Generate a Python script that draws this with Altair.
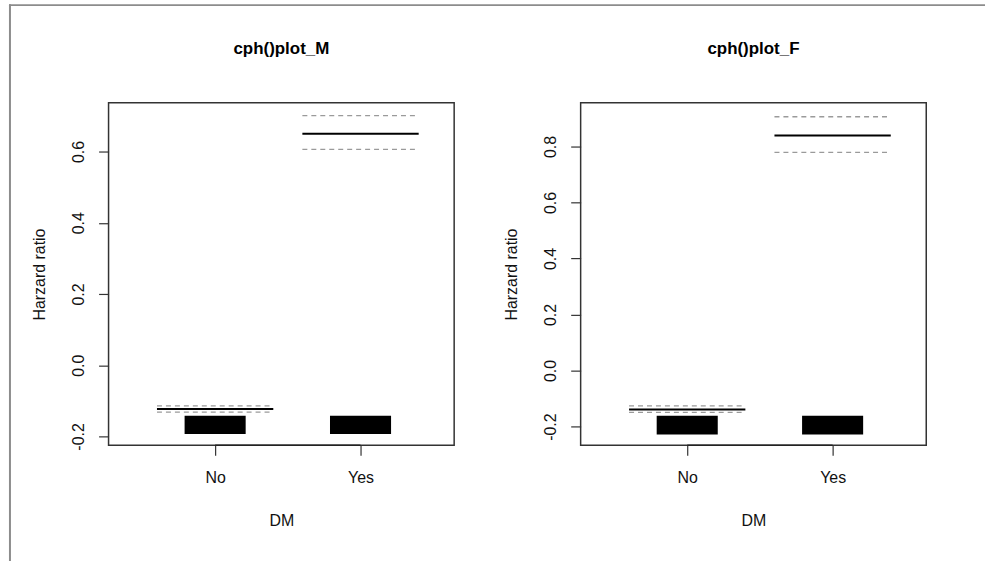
import altair as alt
import pandas as pd

# ---- data ----
categories = ["No", "Yes"]
panel_titles = ["cph()plot_M", "cph()plot_F"]

m_est = [-0.123, 0.650]
m_lower = [-0.132, 0.606]
m_upper = [-0.114, 0.701]
m_bar_low = [-0.193, -0.193]
m_bar_high = [-0.142, -0.142]

f_est = [-0.139, 0.839]
f_lower = [-0.149, 0.779]
f_upper = [-0.126, 0.906]
f_bar_low = [-0.228, -0.228]
f_bar_high = [-0.161, -0.161]

m_ticks = [-0.2, 0.0, 0.2, 0.4, 0.6]
f_ticks = [-0.2, 0.0, 0.2, 0.4, 0.6, 0.8]
m_domain = [-0.225, 0.737]
f_domain = [-0.267, 0.956]
x_domain = [0.267, 2.644]

# ---- styling / layout ----
LINE_HALF = 0.4
BAR_HALF = 0.21
W, H = 347, 344
FONT = "Liberation Sans"
MINUS = "\u2212"


def panel(title, est, lower, upper, blo, bhi, ticks, ydom, frame=False):
    pos = [i + 1 for i in range(len(categories))]
    df = pd.DataFrame({
        "cat": categories, "pos": pos, "est": est, "lower": lower,
        "upper": upper, "blo": blo, "bhi": bhi,
    })
    df["x0"] = df["pos"] - LINE_HALF
    df["x1"] = df["pos"] + LINE_HALF
    df["b0"] = df["pos"] - BAR_HALF
    df["b1"] = df["pos"] + BAR_HALF

    xs = alt.Scale(domain=x_domain, nice=False, zero=False)
    ys = alt.Scale(domain=ydom, nice=False, zero=False)
    cat_js = "[" + ",".join("'%s'" % c for c in categories) + "]"
    xaxis = alt.Axis(
        values=pos, labelExpr=cat_js + "[datum.value - 1]", title="DM",
        domain=False, grid=False, tickSize=10, tickColor="#333", tickWidth=1.2,
        labelPadding=14, labelFont=FONT, labelFontSize=16, labelColor="#111",
        titleFont=FONT, titleFontSize=16, titleFontWeight="normal", titleColor="#111",
        titleX=W / 2, titleY=75, titleAlign="center", titleBaseline="middle",
    )
    yaxis = alt.Axis(
        values=ticks,
        labelExpr="replace(format(datum.value, '.1f'), '" + MINUS + "', '-')",
        labelAngle=270, labelAlign="center", labelBaseline="bottom", labelPadding=12,
        domain=False, grid=False, tickSize=10, tickColor="#333", tickWidth=1.2,
        labelFont=FONT, labelFontSize=16, labelColor="#111",
        title="Harzard ratio", titleAngle=270, titleX=-69, titleY=H / 2,
        titleAlign="center", titleBaseline="middle",
        titleFont=FONT, titleFontSize=16, titleFontWeight="normal", titleColor="#111",
    )

    base = alt.Chart(df)
    bars = base.mark_rect(color="black").encode(
        x=alt.X("b0:Q", scale=xs, axis=xaxis), x2="b1",
        y=alt.Y("blo:Q", scale=ys, axis=yaxis), y2="bhi",
    )
    est_l = base.mark_rule(color="black", strokeWidth=2).encode(
        x="x0:Q", x2="x1", y="est:Q")
    low_l = base.mark_rule(color="#9a9a9a", strokeWidth=1.3, strokeDash=[5, 4]).encode(
        x="x0:Q", x2="x1", y="lower:Q")
    up_l = base.mark_rule(color="#9a9a9a", strokeWidth=1.3, strokeDash=[5, 4]).encode(
        x="x0:Q", x2="x1", y="upper:Q")
    axis_line = alt.Chart(pd.DataFrame({"a": [pos[0]], "b": [pos[-1]]})).mark_rule(
        color="#222", strokeWidth=1.5).encode(x="a:Q", x2="b:Q", y=alt.value(H))

    one = alt.Chart(pd.DataFrame({"t": [title]}))
    title_txt = one.mark_text(font=FONT, fontSize=17, fontWeight="bold", color="black",
                              align="center", baseline="middle").encode(
        text="t:N", x=alt.value(W / 2), y=alt.value(-54))

    layers = [bars, est_l, low_l, up_l, axis_line, title_txt]
    if frame:
        left_border = one.mark_rule(color="#8c8c8c", strokeWidth=2).encode(
            x=alt.value(-99), y=alt.value(-99), y2=alt.value(461))
        top_border = one.mark_rule(color="#8c8c8c", strokeWidth=2).encode(
            x=alt.value(-100), x2=alt.value(880), y=alt.value(-98))
        layers += [left_border, top_border]

    return alt.layer(*layers).properties(width=W, height=H)


left = panel(panel_titles[0], m_est, m_lower, m_upper, m_bar_low, m_bar_high,
             m_ticks, m_domain, frame=True)
right = panel(panel_titles[1], f_est, f_lower, f_upper, f_bar_low, f_bar_high,
              f_ticks, f_domain)

chart = alt.hconcat(left, right, spacing=127, bounds="flush").properties(
    padding={"left": 7, "top": 1, "right": 0, "bottom": 0},
    background="white",
).configure_view(stroke="#333", strokeWidth=1.5)

chart.save("out.html", embed_options={"renderer": "svg", "actions": False})
